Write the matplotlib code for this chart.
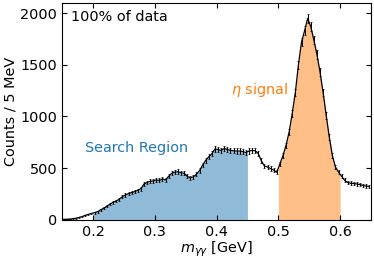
import numpy as np
import matplotlib
matplotlib.use('Agg')
import matplotlib.pyplot as plt

# bin centres of 5 MeV bins from 0.15 to 0.65 GeV
bin_edges = np.linspace(0.15, 0.65, 101)
centers = 0.5 * (bin_edges[1:] + bin_edges[:-1])

counts = np.array([
    3, 4, 6, 10, 14, 22, 30, 42, 52, 60,
    68, 78, 95, 112, 130, 150, 168, 180, 198, 222,
    240, 252, 262, 272, 285, 300, 345, 360, 372, 375,
    385, 380, 395, 385, 420, 450, 460, 465, 455, 450,
    420, 405, 415, 440, 475, 530, 575, 610, 640, 685,
    680, 670, 690, 680, 672, 668, 665, 665, 660, 650,
    665, 670, 668, 640, 570, 520, 510, 495, 480, 460,
    540, 620, 720, 850, 1030, 1230, 1500, 1720, 1830, 1950,
    1870, 1740, 1600, 1430, 1230, 1010, 800, 620, 510, 460,
    420, 380, 360, 352, 350, 345, 340, 330, 325, 320,
])
errors = np.sqrt(counts)

search_region = (0.2, 0.45)
signal_region = (0.5, 0.6)


def fill_region(ax, lo, hi, color):
    inside = (centers > lo) & (centers < hi)
    xs = np.concatenate([[lo], centers[inside], [hi]])
    ys = np.interp(xs, centers, counts)
    ax.fill_between(xs, 0, ys, color=color, lw=0)


fig, ax = plt.subplots(figsize=(3.74, 2.62), dpi=100)
fig.subplots_adjust(left=0.166, right=0.992, top=0.989, bottom=0.1615)

fill_region(ax, *search_region, '#8fbbd9')
fill_region(ax, *signal_region, '#ffbf86')

ax.errorbar(centers, counts, yerr=errors, color='black', lw=0.9,
            elinewidth=0.7, capsize=1.0, capthick=0.5)

fs = 10.4
ax.text(0.03, 0.965, '100% of data', transform=ax.transAxes,
        ha='left', va='top', fontsize=fs)
ax.text(0.271, 694, 'Search Region', color='#1f77b4', ha='center',
        va='center', fontsize=fs)
ax.text(0.469, 1255, r'$\eta$ signal', color='#ff7f0e', ha='center',
        va='center', fontsize=fs)

ax.set_xlim(0.15, 0.65)
ax.set_ylim(0, 2100)
ax.set_xticks([0.2, 0.3, 0.4, 0.5, 0.6])
ax.set_yticks([0, 500, 1000, 1500, 2000])
ax.set_xlabel(r'$m_{\gamma\gamma}$ [GeV]', fontsize=fs, labelpad=1)
ax.set_ylabel('Counts / 5 MeV', fontsize=fs, labelpad=2)
ax.tick_params(direction='in', top=True, right=True, labelsize=fs, pad=3.5)

fig.savefig('out.png', dpi=100)
